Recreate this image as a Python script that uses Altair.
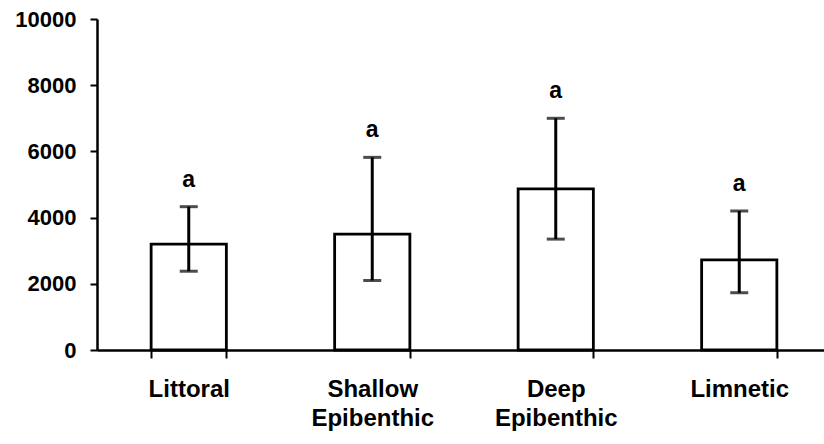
import altair as alt
import pandas as pd

# Habitat categories with mean values, error-bar limits and significance letters
habitats = ["Littoral", "Shallow Epibenthic", "Deep Epibenthic", "Limnetic"]
means = [3200, 3500, 4870, 2720]
upper = [4330, 5820, 7000, 4200]
lower = [2380, 2100, 3350, 1730]
letters = ["a", "a", "a", "a"]

df = pd.DataFrame({
    "habitat": habitats,
    "mean": means,
    "upper": upper,
    "lower": lower,
    "letter": letters,
})

FONT = "Liberation Sans"

x_enc = alt.X(
    "habitat:N",
    sort=habitats,
    scale=alt.Scale(range=[0, 734], paddingInner=0.59, paddingOuter=0.295),
    axis=alt.Axis(
        title=None,
        labelAngle=0,
        labelExpr="split(datum.label, ' ')",
        labelFont=FONT,
        labelFontSize=24,
        labelFontWeight="bold",
        labelColor="black",
        labelLineHeight=29,
        labelPadding=19,
        labelBaseline="top",
        tickBand="extent",
        tickSize=8,
        tickWidth=2,
        tickColor="black",
        domainColor="black",
        domainWidth=2.5,
        grid=False,
    ),
)

y_scale = alt.Scale(domain=[0, 10000], nice=False)
y_axis = alt.Axis(
    title=None,
    values=[0, 2000, 4000, 6000, 8000, 10000],
    format="d",
    labelFont=FONT,
    labelFontSize=22,
    labelFontWeight="bold",
    labelColor="black",
    labelPadding=14,
    tickSize=7,
    tickWidth=2,
    tickColor="black",
    domainColor="black",
    domainWidth=2.5,
    grid=False,
)

base = alt.Chart(df)

bars = base.mark_bar(fill="white", stroke="black", strokeWidth=2.8).encode(
    x=x_enc,
    y=alt.Y("mean:Q", scale=y_scale, axis=y_axis),
)

whiskers = base.mark_rule(color="black", strokeWidth=3).encode(
    x=alt.X("habitat:N", sort=habitats),
    y="lower:Q",
    y2="upper:Q",
)

caps_top = base.mark_tick(color="black", orient="horizontal", size=18, thickness=3).encode(
    x=alt.X("habitat:N", sort=habitats),
    y="upper:Q",
)

caps_bottom = base.mark_tick(color="black", orient="horizontal", size=18, thickness=3).encode(
    x=alt.X("habitat:N", sort=habitats),
    y="lower:Q",
)

labels = base.mark_text(
    font=FONT, fontSize=23, fontWeight="bold", color="black",
    baseline="middle", dy=-27,
).encode(
    x=alt.X("habitat:N", sort=habitats),
    y="upper:Q",
    text="letter:N",
)

chart = (
    alt.layer(bars, whiskers, caps_top, caps_bottom, labels)
    .properties(
        width=727,
        height=331,
        autosize="none",
        padding={"left": 97, "top": 19, "right": 0, "bottom": 94},
        background="white",
    )
    .configure_view(stroke=None)
)

chart.save("out.html", embed_options={"renderer": "svg", "actions": False})
